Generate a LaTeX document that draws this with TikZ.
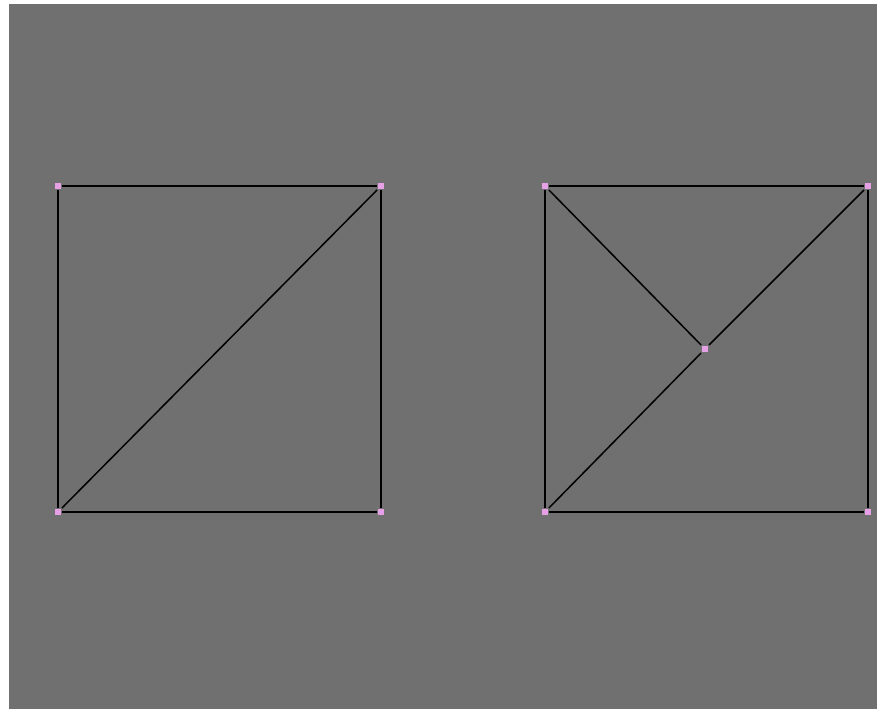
\documentclass[tikz,border=0pt]{standalone}
\usepackage{tikz}
\usetikzlibrary{positioning}
\definecolor{bggray}{HTML}{707070}
\definecolor{vertpink}{HTML}{E6A0E6}

\begin{document}
\begin{tikzpicture}[x=1pt, y=-1pt, line width=2pt,
    vert/.style={rectangle, fill=vertpink, inner sep=0pt, minimum size=6pt}]
    % Background
    \useasboundingbox (0,0) rectangle (877,709);
    \fill[white] (0,0) rectangle (877,709);
    \fill[bggray] (9,4) rectangle (877,709);

    % Nodes
    \node[vert] (a1) at (58,186) {};
    \node[vert] (a2) at (381,186) {};
    \node[vert] (a3) at (381,512) {};
    \node[vert] (a4) at (58,512) {};

    \node[vert] (b1) at (545,186) {};
    \node[vert] (b2) at (868,186) {};
    \node[vert] (b3) at (868,512) {};
    \node[vert] (b4) at (545,512) {};
    \node[vert] (bc) at (705,349) {};

    % Connections
    \draw[black] (a1) -- (a2) -- (a3) -- (a4) -- (a1);
    \draw[black, line width=1.5pt] (a4) -- (a2);

    \draw[black] (b1) -- (b2) -- (b3) -- (b4) -- (b1);
    \draw[black, line width=1.5pt] (b4) -- (bc) -- (b2);
    \draw[black, line width=1.5pt] (b1) -- (bc);
\end{tikzpicture}
\end{document}
